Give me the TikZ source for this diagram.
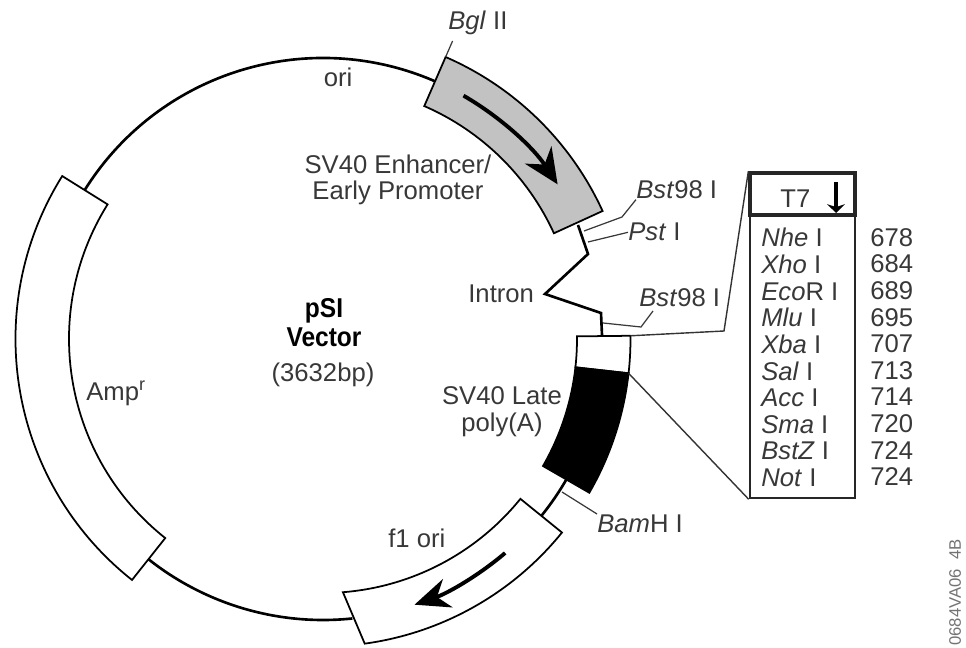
\documentclass[tikz,border=0pt]{standalone}
\usepackage{xcolor}
\usepackage{fontspec}
\setmainfont{Liberation Sans}
\usetikzlibrary{arrows.meta}
\definecolor{labelgray}{gray}{0.22}
\definecolor{promotergray}{gray}{0.76}

\begin{document}
\begin{tikzpicture}[x=0.02cm, y=0.02cm, >=stealth,
  font=\fontsize{14.6pt}{15.15pt}\selectfont,
  lab/.style={text=labelgray, inner sep=0pt},
  band/.style={draw, line width=1pt, fill=white, line join=miter},
  backbone/.style={line width=1.5pt},
  leader/.style={line width=0.7pt, draw=labelgray},
  zoomline/.style={line width=0.8pt, draw=black!80},
  sitebox/.style={draw=black!85, line width=1.5pt, minimum width=2.1cm, inner sep=0pt},
  inner arrow/.style={line width=2.2pt}]
  \useasboundingbox (0,0) rectangle (966,-648);

  \coordinate (ring) at (323,-339);

  % plasmid backbone and features
  \begin{scope}[shift={(ring)}]
    \draw[backbone] (148:281) arc[start angle=148, end angle=66.5, radius=281];
    \draw[backbone] (231.6:281) arc[start angle=231.6, end angle=276, radius=281];
    \draw[backbone] (-39:281) arc[start angle=-39, end angle=-30, radius=281];
    \draw[band] (148:254) arc[start angle=148, end angle=231.6, radius=254]
      -- (231.6:307.5) arc[start angle=231.6, end angle=148, radius=307.5] -- cycle;
    \draw[band, fill=promotergray] (66.5:254) arc[start angle=66.5, end angle=24.6, radius=254]
      -- (24.6:307.5) arc[start angle=24.6, end angle=66.5, radius=307.5] -- cycle;
    \draw[band] (0.6:254) arc[start angle=0.6, end angle=-6.4, radius=254]
      -- (-6.4:307.5) arc[start angle=-6.4, end angle=0.6, radius=307.5] -- cycle;
    \draw[band, fill=black] (-6.4:254) arc[start angle=-6.4, end angle=-30, radius=254]
      -- (-30:307.5) arc[start angle=-30, end angle=-6.4, radius=307.5] -- cycle;
    \draw[band] (-39:254) arc[start angle=-39, end angle=-85.5, radius=254]
      -- (-82.2:307.5) arc[start angle=-82.2, end angle=-39, radius=307.5] -- cycle;
    \draw[inner arrow, -{Stealth[length=20pt, width=18pt]}] (60:281) arc[start angle=60, end angle=33.4, radius=281];
    \draw[inner arrow, -{Stealth[length=20pt, width=17pt]}] (-49.6:281) arc[start angle=-49.6, end angle=-71, radius=281];
    \coordinate (bglfoot) at (66.5:307.5);
    \coordinate (bgltop) at (66.5:325);
    \coordinate (whitetop) at (0.6:307.5);
    \coordinate (whitebot) at (-6.4:307.5);
  \end{scope}

  % intron zigzag
  \coordinate (promend) at (578,-225);
  \coordinate (zigA) at (588,-254);
  \coordinate (zigB) at (545,-294);
  \coordinate (zigC) at (601,-313);
  \coordinate (zigD) at (602,-335);
  \draw[backbone, line join=miter] (promend) -- (zigA) -- (zigB) -- (zigC) -- (zigD);

  % site box
  \node[sitebox, minimum height=6.5cm] (sites) at (802.5,-335.5) {};
  \node[sitebox, line width=1.9pt, minimum height=0.84cm] (header) at (802.5,-194) {};
  \node[lab, anchor=base west] (t7) at (780,-208) {T7};
  \coordinate (t7top) at (836,-182);
  \coordinate (t7tip) at (836,-213);
  \draw[line width=1.9pt, -{Stealth[length=5pt, width=10pt]}] (t7top) -- (t7tip);
  \node[lab, anchor=north west, align=left] (names) at (761,-228) {\textit{Nhe} I\\ \textit{Xho} I\\ \textit{Eco}R I\\ \textit{Mlu} I\\ \textit{Xba} I\\ \textit{Sal} I\\ \textit{Acc} I\\ \textit{Sma} I\\ \textit{BstZ} I\\ \textit{Not} I};
  \node[lab, anchor=north west, align=left] (positions) at (870,-228) {678\\ 684\\ 689\\ 695\\ 707\\ 713\\ 714\\ 720\\ 724\\ 724};

  % zoom lines to the box
  \coordinate (zoombend) at (724,-331);
  \draw[zoomline] (whitetop) -- (zoombend) -- (header.north west);
  \draw[zoomline] (whitebot) -- (sites.south west);

  % site labels
  \node[lab, anchor=base west] (bgl) at (448,-30) {\textit{Bgl} II};
  \node[lab, anchor=base west] (bstA) at (636,-199) {\textit{Bst}98 I};
  \node[lab, anchor=base west] (pst) at (628,-241) {\textit{Pst} I};
  \node[lab, anchor=base west] (bstB) at (639,-307) {\textit{Bst}98 I};
  \node[lab, anchor=base west] (bam) at (597,-532) {\textit{Bam}H I};
  \draw[leader] (bglfoot) -- (bgltop);
  \coordinate (bstAfoot) at (584,-231);
  \coordinate (bstAbend) at (622,-217);
  \coordinate (pstfoot) at (588,-242);
  \coordinate (bstBfoot) at (603,-323);
  \coordinate (bstBbend) at (641,-327);
  \coordinate (bamfoot) at (562,-492);
  \draw[leader] (bstAfoot) -- (bstAbend) -- (bstA.south west);
  \draw[leader] (pstfoot) -- (pst.west);
  \draw[leader] (bstBfoot) -- (bstBbend) -- (653,-311);
  \draw[leader] (bamfoot) -- (bam.north west);

  % feature labels
  \node[lab, anchor=base] (ori) at (338,-87) {ori};
  \node[lab, align=center] (promoter) at (398,-180) {SV40 Enhancer/\\ Early Promoter};
  \node[lab, anchor=base west] (intron) at (468,-302) {Intron};
  \node[lab, align=center] (late) at (502,-412) {SV40 Late\\ poly(A)};
  \node[lab, anchor=base west] (fori) at (388,-547) {f1 ori};
  \node[lab, anchor=base west] (amp) at (86,-400) {Amp\textsuperscript{r}};
  \node[lab, anchor=base, text=black, xscale=0.9, font=\fontsize{15.5pt}{16pt}\selectfont\bfseries] (name) at (324,-317) {pSI};
  \node[lab, anchor=base, text=black, xscale=0.9, font=\fontsize{15.5pt}{16pt}\selectfont\bfseries] (vector) at (324,-346) {Vector};
  \node[lab, anchor=base] (size) at (323,-381) {(3632bp)};
  \node[lab, anchor=west, rotate=90, text=black!55, font=\fontsize{9.5pt}{9.5pt}\selectfont] (code) at (955,-646) {0684VA06\ \ 4B};
\end{tikzpicture}
\end{document}
